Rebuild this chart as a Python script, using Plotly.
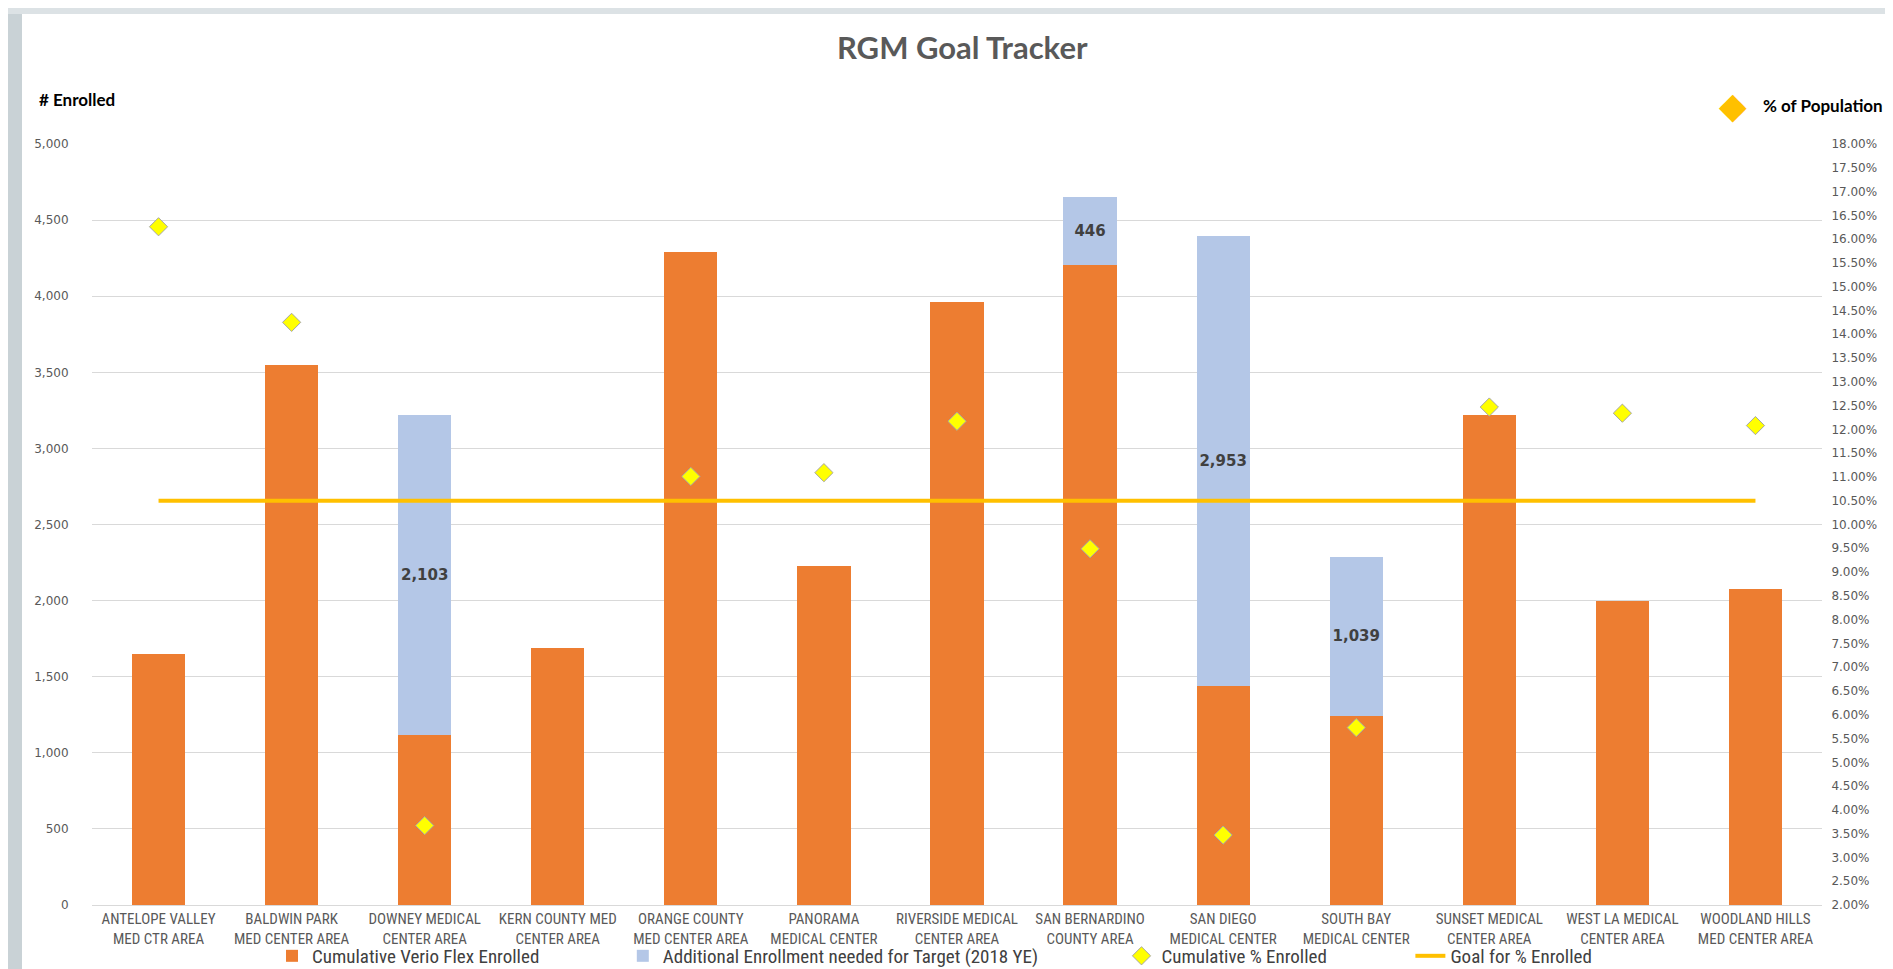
import plotly.graph_objects as go

# RGM goal tracker data
areas = [
    "ANTELOPE VALLEY<br>MED CTR AREA",
    "BALDWIN PARK<br>MED CENTER AREA",
    "DOWNEY MEDICAL<br>CENTER AREA",
    "KERN COUNTY MED<br>CENTER AREA",
    "ORANGE COUNTY<br>MED CENTER AREA",
    "PANORAMA<br>MEDICAL CENTER",
    "RIVERSIDE MEDICAL<br>CENTER AREA",
    "SAN BERNARDINO<br>COUNTY AREA",
    "SAN DIEGO<br>MEDICAL CENTER",
    "SOUTH BAY<br>MEDICAL CENTER",
    "SUNSET MEDICAL<br>CENTER AREA",
    "WEST LA MEDICAL<br>CENTER AREA",
    "WOODLAND HILLS<br>MED CENTER AREA",
]
enrolled = [1648, 3547, 1119, 1691, 4290, 2227, 3962, 4203, 1440, 1245, 3218, 1996, 2076]
additional_needed = [None, None, 2103, None, None, None, None, 446, 2953, 1039, None, None, None]
cumulative_pct = [0.1626, 0.1425, 0.0367, None, 0.1101, 0.1109, 0.1217, 0.0949,
                  0.0347, 0.0573, 0.1247, 0.1234, 0.1208]
goal_pct = [0.105] * len(areas)

ORANGE = "#ED7D31"
BLUE = "#B4C7E7"
GOLD = "#FFC000"
GRID = "#D9D9D9"
TEXT = "#595959"
NARROW = "Liberation Sans Narrow, Roboto Condensed, Roboto, sans-serif"
PAD = "\u00a0" * 18  # spacing between legend entries

fig = go.Figure()

fig.add_trace(go.Bar(
    x=areas, y=enrolled,
    name="Cumulative Verio Flex Enrolled" + PAD,
    marker=dict(color=ORANGE, line=dict(width=0)),
))

fig.add_trace(go.Bar(
    x=areas, y=additional_needed,
    name="Additional Enrollment needed for Target (2018 YE)" + PAD,
    marker=dict(color=BLUE, line=dict(width=0)),
    text=[f"{v:,}" if v else "" for v in additional_needed],
    textposition="inside",
    insidetextanchor="middle",
    textangle=0,
    constraintext="none",
    textfont=dict(family="DejaVu Sans", size=15, color="#404040", weight="bold"),
))

fig.add_trace(go.Scatter(
    x=areas, y=cumulative_pct,
    name="Cumulative % Enrolled" + PAD,
    mode="markers",
    yaxis="y2",
    marker=dict(symbol="diamond", size=14, color="#FFFF00",
                line=dict(color="#A6A6A6", width=1)),
))

fig.add_trace(go.Scatter(
    x=areas, y=goal_pct,
    name="Goal for % Enrolled",
    mode="lines",
    yaxis="y2",
    line=dict(color=GOLD, width=4),
))

fig.update_layout(
    width=1893, height=969,
    barmode="stack",
    bargap=0.6,
    plot_bgcolor="white",
    paper_bgcolor="white",
    margin=dict(l=84, r=79, t=136, b=72, autoexpand=False),
    font=dict(family="DejaVu Sans", color=TEXT),
    xaxis=dict(
        type="category",
        range=[-0.5, len(areas) - 0.5],
        showgrid=False,
        showline=True, linecolor=GRID, linewidth=1,
        ticks="",
        tickangle=0,
        tickfont=dict(family=NARROW, size=15, color=TEXT),
    ),
    yaxis=dict(
        range=[0, 5000], dtick=500, tickformat=",",
        showgrid=True, gridcolor=GRID, gridwidth=1,
        zeroline=False,
        ticks="outside", ticklen=20, tickcolor="rgba(0,0,0,0)",
        tickfont=dict(size=12, color=TEXT),
    ),
    yaxis2=dict(
        overlaying="y", side="right",
        range=[0.02, 0.18], dtick=0.005, tickformat=".2%",
        showgrid=False, zeroline=False,
        ticks="outside", ticklen=6, tickcolor="rgba(0,0,0,0)",
        tickfont=dict(size=12, color=TEXT),
    ),
    legend=dict(
        orientation="h",
        x=0.487, xanchor="center",
        y=-0.042, yanchor="top",
        bgcolor="rgba(0,0,0,0)",
        font=dict(family=NARROW, size=19, color="#404040"),
        itemwidth=30,
        traceorder="normal",
    ),
    showlegend=True,
)

fig.add_annotation(
    text="<b>RGM Goal Tracker</b>", xref="paper", yref="paper",
    x=0.503, y=1.127, xanchor="center", yanchor="middle", showarrow=False,
    font=dict(family="Lato", size=31, color=TEXT),
)
fig.add_annotation(
    text="<b># Enrolled</b>", xref="paper", yref="paper",
    x=-0.0318, y=1.059, xanchor="left", yanchor="middle", showarrow=False,
    font=dict(family="Lato", size=17, color="black"),
)
fig.add_annotation(
    text="◆", xref="paper", yref="paper",
    x=0.9486, y=1.05, xanchor="center", yanchor="middle", showarrow=False,
    font=dict(family="DejaVu Sans", size=36, color=GOLD),
)
fig.add_annotation(
    text="<b>% of Population</b>", xref="paper", yref="paper",
    x=0.9647, y=1.05, xanchor="left", yanchor="middle", showarrow=False,
    font=dict(family="Lato", size=17, color="black"),
)

# textured screenshot frame on the left and top edges
fig.add_shape(type="rect", xref="paper", yref="paper",
              x0=-84 / 1730, x1=-70 / 1730, y0=-72 / 761, y1=1 + 136 / 761,
              fillcolor="#C9D2D6", line=dict(width=0), layer="below")
fig.add_shape(type="rect", xref="paper", yref="paper",
              x0=-84 / 1730, x1=1 + 79 / 1730, y0=1 + 130 / 761, y1=1 + 136 / 761,
              fillcolor="#DCE2E5", line=dict(width=0), layer="below")

fig.write_html("out.html")
